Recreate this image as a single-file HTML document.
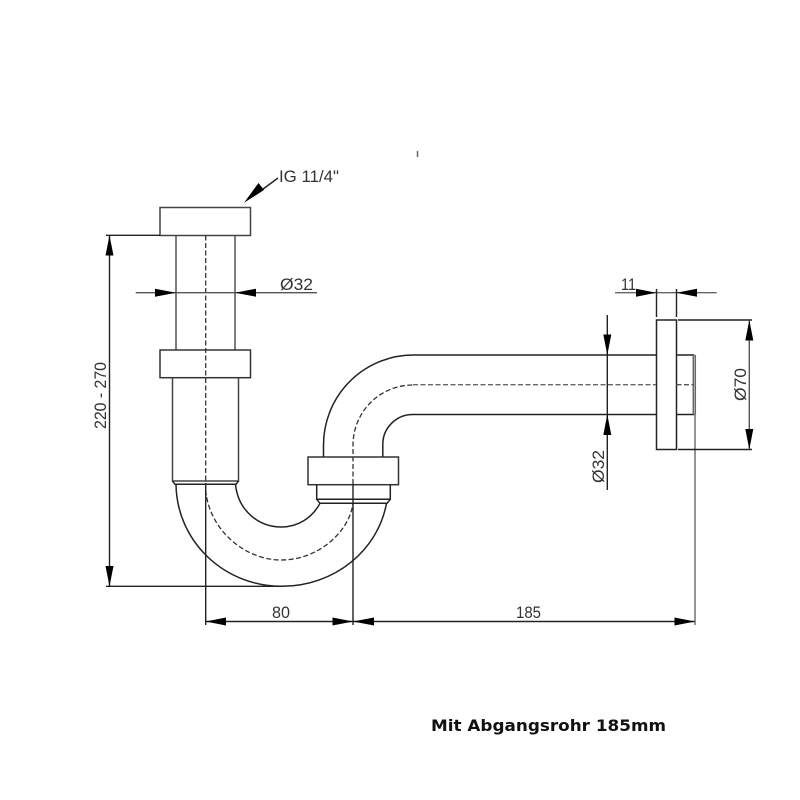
<!DOCTYPE html>
<html>
<head>
<meta charset="utf-8">
<style>
html,body{margin:0;padding:0;background:#fff;width:800px;height:800px;overflow:hidden}
svg{display:block}
.t{font-family:"Liberation Sans",sans-serif;font-size:17px;fill:#333}
.b{font-family:"DejaVu Sans",sans-serif;font-size:16px;font-weight:bold;fill:#111}
</style>
</head>
<body>
<svg width="800" height="800" viewBox="0 0 800 800" xmlns="http://www.w3.org/2000/svg">
<rect width="800" height="800" fill="#fff"/>
<line x1="417.5" y1="151" x2="417.5" y2="157" stroke="#666" stroke-width="1.5"/>

<!-- body outlines -->
<g fill="none" stroke="#222" stroke-width="1.5">
  <rect x="160" y="207.5" width="90.5" height="28" stroke="#444"/>
  <path d="M176 235.5V350M235 235.5V350" stroke="#555"/>
  <rect x="160" y="350" width="90.5" height="27.7" stroke="#333"/>
  <path d="M172.5 377.7V481H238.5V377.7" stroke="#444"/>
  <path d="M172.5 481L175 484.3H236L238.5 481"/>
  <rect x="308" y="457" width="90.5" height="27.7" stroke="#333"/>
  <path d="M316.7 484.7V499.3H390.3V484.7"/>
  <path d="M316.7 499.3L320 503.3H387L390.3 499.3"/>
  <!-- lower U bend -->
  <path d="M176 484.3A105.5 103 0 0 0 281.5 586.3C335 586.3 378 550 386.5 503.3"/>
  <path d="M235.5 484.3C238 510 258 527 281.5 527C298 527 312 518 320 503.3"/>
  <!-- upper bend -->
  <path d="M323.5 457V445A90 90 0 0 1 413.5 355H656.3"/>
  <path d="M382.8 457V445A30 30 0 0 1 412.8 414.5H656.3"/>
  <!-- flange -->
  <rect x="656.5" y="320" width="20" height="129.5"/>
  <path d="M676.5 355H694.3M676.5 414.5H694.3"/>
  <path d="M693.3 355V414.5M695.3 355V414.5" stroke="#666"/>
</g>

<!-- dashed centre lines -->
<g fill="none" stroke="#333" stroke-width="1.3" stroke-dasharray="5 2.5">
  <path d="M205.7 235.5V484"/>
  <path d="M205.7 490C209 530 245 560 281 560C320 560 350 530 353 503"/>
  <path d="M353 484V445A60 60 0 0 1 413 385"/>
  <path d="M676.5 384.7H694" stroke="#555"/>
  <path d="M413 384.7H656" stroke="#666"/>
</g>

<!-- dimension lines -->
<g fill="none" stroke="#222" stroke-width="1.4">
  <path d="M106 235.3H160M109.5 235.3V586.3M106 586.3H281"/>
  <path d="M205.7 484V625M353 484V625"/>
  <path d="M205.7 621.5H695"/>
  <path d="M695 414.5V625" stroke="#666"/>
  <path d="M135.7 292.7H317" stroke="#555"/>
  <path d="M615 292.7H716.7" stroke="#666"/>
  <path d="M656.5 289V317M676.5 289V317"/>
  <path d="M678 320H752M678 449.5H752"/>
  <path d="M749.3 320V449.5" stroke="#555"/>
  <path d="M607.3 315V490"/>
  <path d="M278 178L255 195"/>
</g>

<!-- arrowheads -->
<g fill="#000">
  <path d="M109.5 235.5L105.5 255.5H113.5Z"/>
  <path d="M109.5 586.3L105.5 566H113.5Z"/>
  <path d="M176 292.7L155 288.7V296.7Z"/>
  <path d="M235 292.7L256 288.7V296.7Z"/>
  <path d="M205.7 621.5L226 617.5V625.5Z"/>
  <path d="M353 621.5L332.5 617.5V625.5Z"/>
  <path d="M353 621.5L374 617.5V625.5Z"/>
  <path d="M695 621.5L674.5 617.5V625.5Z"/>
  <path d="M656.3 292.7L636 288.7V296.7Z"/>
  <path d="M676.5 292.7L697 288.7V296.7Z"/>
  <path d="M749.3 320L745.3 340.5H753.3Z"/>
  <path d="M749.3 449.5L745.3 429H753.3Z"/>
  <path d="M607.3 355L603.3 334.5H611.3Z"/>
  <path d="M607.3 414.5L603.3 435H611.3Z"/>
  <path d="M244 202.7L258.5 183L264 190Z"/>
</g>

<!-- labels -->
<text class="t" x="279" y="182" textLength="60" lengthAdjust="spacingAndGlyphs">IG 11/4"</text>
<text class="t" x="280" y="290" textLength="33" lengthAdjust="spacingAndGlyphs">Ø32</text>
<text class="t" x="272" y="618" textLength="18" lengthAdjust="spacingAndGlyphs">80</text>
<text class="t" x="516" y="618" textLength="25" lengthAdjust="spacingAndGlyphs">185</text>
<text class="t" x="621" y="290" textLength="15" lengthAdjust="spacingAndGlyphs">11</text>
<text class="t" transform="translate(106 429) rotate(-90)" textLength="67" lengthAdjust="spacingAndGlyphs">220 - 270</text>
<text class="t" transform="translate(604 483) rotate(-90)" textLength="33" lengthAdjust="spacingAndGlyphs">Ø32</text>
<text class="t" transform="translate(746 401) rotate(-90)" textLength="33" lengthAdjust="spacingAndGlyphs">Ø70</text>
<text class="b" x="431" y="731" textLength="235" lengthAdjust="spacingAndGlyphs">Mit Abgangsrohr 185mm</text>
</svg>
</body>
</html>
